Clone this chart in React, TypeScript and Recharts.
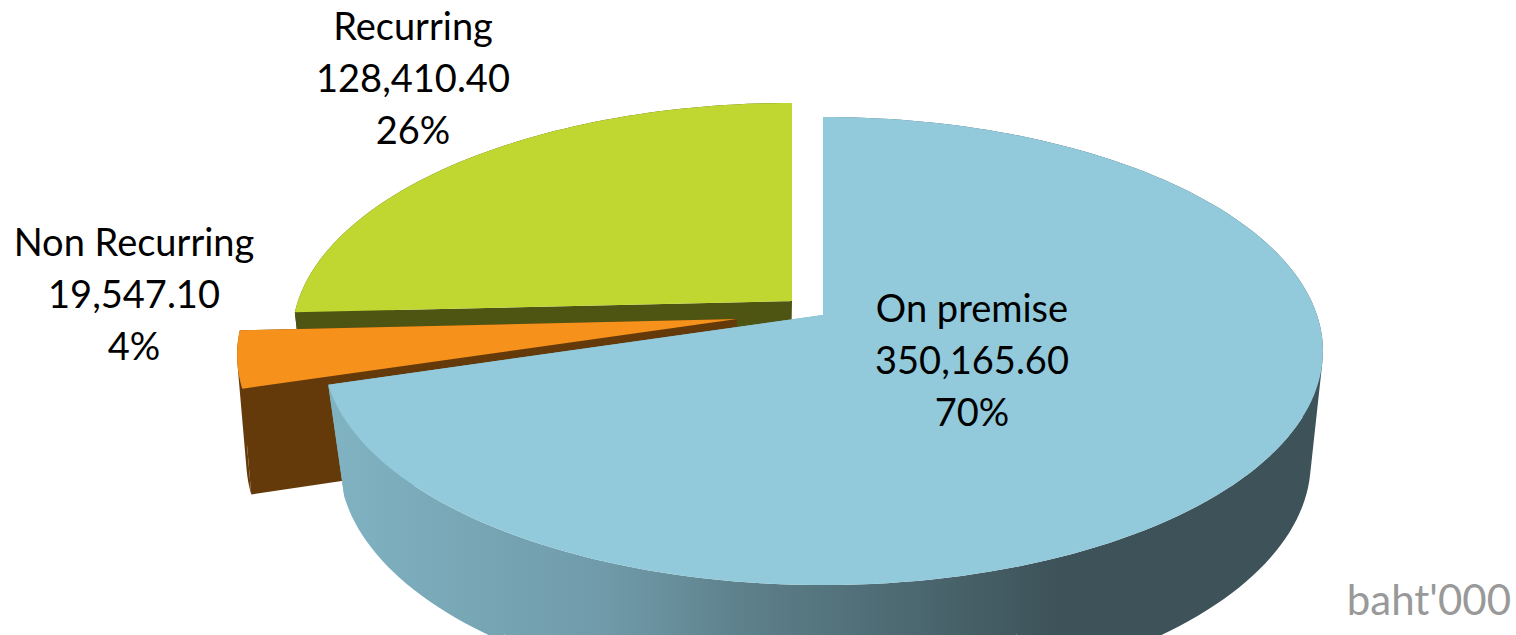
import React from "react";
import { PieChart, Pie } from "recharts";

const names = ["Recurring", "Non Recurring", "On premise"];
const amounts = [128410.4, 19547.1, 350165.6];
const total = amounts.reduce((a, b) => a + b, 0);
const rows = names.map((name, i) => ({ name, value: amounts[i] }));

const WIDTH = 1516;
const HEIGHT = 635;
const CX = 823;
const CY = 315;
const RADIUS = 494;
const TILT = 0.1538;
const FONT = "Lato, 'Noto Sans', sans-serif";

const topFace = { sx: 1, sy: 0.4626 };
const baseFace = { sx: 0.9717, sy: 0.4743 };

const looks: Record<string, any> = {
  "On premise": { top: "#92cadb", side: "url(#wallShade)", cut: "#7fb2c2", t: [0, 0], b: [2, 110], label: [972, 307] },
  "Non Recurring": { top: "#f6911b", side: "#653a0a", cut: "#653a0a", t: [-86, 4], b: [-91, 108], label: [134, 241] },
  Recurring: { top: "#bfd730", side: "#4e5412", cut: "#4e5412", t: [-31, -14], b: [-33, 96], label: [413, 25] },
};

const RAD = Math.PI / 180;

function project(deg: number, cx: number, cy: number, r: number, face: any, off: number[]) {
  const u = Math.cos(deg * RAD);
  const v = Math.sin(deg * RAD);
  const w = 1 + TILT * v;
  return [cx + off[0] + (r * face.sx * u) / w, cy + off[1] - (r * face.sy * v) / w];
}

const quadPath = (p: number[][]) => {
  let area = 0;
  p.forEach((a, i) => {
    const b = p[(i + 1) % p.length];
    area += a[0] * b[1] - b[0] * a[1];
  });
  const q = area < 0 ? [...p].reverse() : p;
  return "M" + q.map((a) => `${a[0].toFixed(2)},${a[1].toFixed(2)}`).join("L") + "Z";
};

function Slice3D(props: any) {
  const { cx, cy, outerRadius, startAngle, endAngle, name } = props;
  const look = looks[name];
  const n = Math.ceil(Math.abs(endAngle - startAngle) / 1.5);
  const angles = Array.from({ length: n + 1 }, (_, i) => startAngle + ((endAngle - startAngle) * i) / n);
  const topRim = angles.map((a) => project(a, cx, cy, outerRadius, topFace, look.t));
  const baseRim = angles.map((a) => project(a, cx, cy, outerRadius, baseFace, look.b));
  const topApex = [cx + look.t[0], cy + look.t[1]];
  const baseApex = [cx + look.b[0], cy + look.b[1]];
  const wall = topRim
    .slice(0, -1)
    .map((p, i) => quadPath([p, topRim[i + 1], baseRim[i + 1], baseRim[i]]))
    .join("");
  const cuts =
    quadPath([topApex, topRim[0], baseRim[0], baseApex]) +
    quadPath([topApex, topRim[n], baseRim[n], baseApex]);
  const face = "M" + [topApex, ...topRim].map((a) => `${a[0].toFixed(2)},${a[1].toFixed(2)}`).join("L") + "Z";
  return (
    <g>
      <path d={cuts} fill={look.cut} />
      <path d={wall} fill={look.side} />
      <path d={face} fill={look.top} />
    </g>
  );
}

const money = (v: number) =>
  v.toLocaleString("en-US", { minimumFractionDigits: 2, maximumFractionDigits: 2 });

function SliceLabel(props: any) {
  const { name, value } = props;
  const [x, y] = looks[name].label;
  const lines = [name, money(value), `${Math.round((value / total) * 100)}%`];
  return (
    <text x={x} y={y} textAnchor="middle" fontFamily={FONT} fontSize={38} fill="#000">
      {lines.map((line, i) => (
        <tspan key={i} x={x} y={y + i * 52} dominantBaseline="central">
          {line}
        </tspan>
      ))}
    </text>
  );
}

export default function App() {
  return (
    <div style={{ position: "absolute", left: 0, top: 0, width: WIDTH, height: HEIGHT, overflow: "hidden", background: "#fff" }}>
      <PieChart width={WIDTH} height={HEIGHT} margin={{ top: 0, right: 0, bottom: 0, left: 0 }}>
        <defs>
          <linearGradient id="wallShade" gradientUnits="userSpaceOnUse" x1={330} y1={0} x2={1060} y2={0}>
            <stop offset="0" stopColor="#80b3c2" />
            <stop offset="0.38" stopColor="#709aa9" />
            <stop offset="0.58" stopColor="#5c7f89" />
            <stop offset="1" stopColor="#3d5259" />
          </linearGradient>
        </defs>
        <Pie
          data={rows}
          dataKey="value"
          nameKey="name"
          cx={CX}
          cy={CY}
          innerRadius={0}
          outerRadius={RADIUS}
          startAngle={90}
          endAngle={450}
          stroke="none"
          isAnimationActive={false}
          shape={Slice3D}
          label={SliceLabel}
          labelLine={false}
        />
      </PieChart>
      <div style={{ position: "absolute", right: 5, top: 574, fontFamily: FONT, fontSize: 42, lineHeight: "50px", color: "#999" }}>
        baht'000
      </div>
    </div>
  );
}
